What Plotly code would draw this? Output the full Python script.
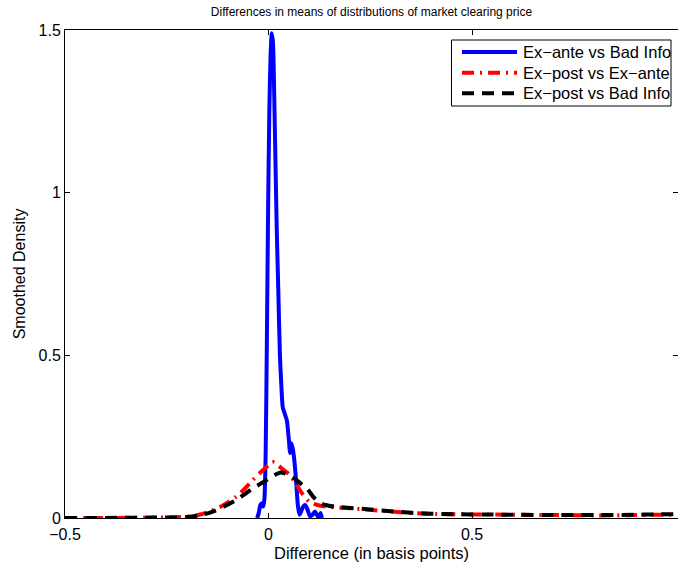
import plotly.graph_objects as go

# Difference in basis points (x) and smoothed density (y) for each comparison
exante_bad_x = [-0.028, -0.024, -0.020, -0.016, -0.013, -0.010, -0.007, -0.004, -0.001,
                0.002, 0.005, 0.008, 0.011, 0.014, 0.017, 0.020, 0.024, 0.028, 0.031,
                0.035, 0.040, 0.045, 0.050, 0.053, 0.056, 0.060, 0.064, 0.068, 0.072,
                0.076, 0.080, 0.085, 0.090, 0.096, 0.102, 0.108, 0.114, 0.119, 0.124,
                0.128, 0.131]
exante_bad_y = [0.0, 0.015, 0.040, 0.045, 0.035, 0.060, 0.20, 0.55, 0.95,
                1.25, 1.42, 1.49, 1.46, 1.30, 1.10, 0.90, 0.70, 0.50, 0.42,
                0.34, 0.32, 0.30, 0.24, 0.20, 0.23, 0.21, 0.17, 0.11, 0.04,
                0.01, 0.02, 0.035, 0.04, 0.025, 0.005, 0.01, 0.02, 0.01, 0.0,
                0.015, 0.0]

expost_exante_x = [-0.5, -0.3, -0.2, -0.17, -0.14, -0.11, -0.08, -0.06, -0.04, -0.02,
                   0.0, 0.01, 0.02, 0.035, 0.05, 0.065, 0.08, 0.10, 0.12, 0.15,
                   0.2, 0.25, 0.3, 0.35, 0.4, 0.5, 0.6, 0.7, 0.8, 0.9, 0.95, 1.0]
expost_exante_y = [0.0, 0.001, 0.004, 0.010, 0.022, 0.040, 0.065, 0.088, 0.115, 0.140,
                   0.162, 0.172, 0.165, 0.150, 0.135, 0.110, 0.080, 0.050, 0.040, 0.034,
                   0.030, 0.025, 0.020, 0.016, 0.013, 0.011, 0.010, 0.009, 0.008, 0.009,
                   0.010, 0.010]

expost_bad_x = [-0.5, -0.3, -0.2, -0.17, -0.14, -0.11, -0.08, -0.06, -0.04, -0.02,
                0.0, 0.02, 0.03, 0.045, 0.06, 0.08, 0.095, 0.11, 0.125, 0.14,
                0.17, 0.2, 0.25, 0.3, 0.35, 0.4, 0.5, 0.6, 0.7, 0.8, 0.9, 0.95, 1.0]
expost_bad_y = [0.0, 0.001, 0.003, 0.008, 0.018, 0.035, 0.055, 0.072, 0.090, 0.105,
                0.120, 0.135, 0.140, 0.135, 0.125, 0.105, 0.090, 0.065, 0.048, 0.040,
                0.034, 0.031, 0.026, 0.021, 0.016, 0.013, 0.011, 0.010, 0.009, 0.009,
                0.010, 0.011, 0.012]

series_names = ["Ex\u2212ante vs Bad Info", "Ex\u2212post vs Ex\u2212ante", "Ex\u2212post vs Bad Info"]
x_ticks = [-0.5, 0, 0.5]
x_tick_text = ["\u22120.5", "0", "0.5"]
y_ticks = [0, 0.5, 1, 1.5]

FONT = "Liberation Sans, Arial, Helvetica, sans-serif"
W, H = 678, 565
ML, MR, MT, MB = 65, 0, 30, 47
PW, PH = W - ML - MR, H - MT - MB


def px_to_paper(px, py):
    return (px - ML) / PW, (H - MB - py) / PH


styles = [
    dict(color="#0000FF", width=4),
    dict(color="#FF0000", width=4, dash="12px,6px,2px,6px"),
    dict(color="#000000", width=4, dash="12px,8px"),
]
series = [(exante_bad_x, exante_bad_y, 0.6),
          (expost_exante_x, expost_exante_y, 0.8),
          (expost_bad_x, expost_bad_y, 0.8)]

fig = go.Figure()
for (xs, ys, sm), name, st in zip(series, series_names, styles):
    fig.add_trace(go.Scatter(x=xs, y=ys, mode="lines", name=name,
                             line=dict(**st, shape="spline", smoothing=sm)))
# empty trace to carry the right-hand tick marks
fig.add_trace(go.Scatter(x=[None], y=[None], yaxis="y2", showlegend=False,
                         hoverinfo="skip"))

# legend box drawn in paper coordinates
shapes = []
annotations = []
x0, y0 = px_to_paper(451.5, 40)
x1, y1 = px_to_paper(671, 106)
shapes.append(dict(type="rect", xref="paper", yref="paper", x0=x0, y0=y1, x1=x1, y1=y0,
                   line=dict(color="black", width=1), fillcolor="white", layer="above"))
row_y = [52, 72.7, 93.3]
for name, st, ry in zip(series_names, styles, row_y):
    lx0, ly = px_to_paper(462, ry)
    lx1, _ = px_to_paper(517, ry)
    shapes.append(dict(type="line", xref="paper", yref="paper", x0=lx0, x1=lx1, y0=ly, y1=ly,
                       line=st, layer="above"))
    tx, _ = px_to_paper(521, ry)
    annotations.append(dict(text=name, xref="paper", yref="paper", x=tx, y=ly,
                            xanchor="left", yanchor="middle", showarrow=False,
                            font=dict(size=16.5, family=FONT, color="black")))

fig.update_layout(
    width=W, height=H,
    margin=dict(l=ML, r=MR, t=MT, b=MB),
    paper_bgcolor="white", plot_bgcolor="white",
    font=dict(family=FONT, size=16, color="black"),
    showlegend=False,
    title=dict(text="Differences in means of distributions of market clearing price",
               font=dict(size=12, family=FONT, color="black"),
               x=0.5, xref="paper", xanchor="center",
               y=1 - 12 / H, yref="container", yanchor="middle"),
    xaxis=dict(range=[-0.5, 1.006], tickvals=x_ticks, ticktext=x_tick_text,
               ticks="inside", ticklen=5, tickcolor="black", tickwidth=1,
               showline=True, linecolor="black", linewidth=1, mirror="ticks",
               showgrid=False, zeroline=False, ticklabelstandoff=2,
               tickfont=dict(size=16),
               title=dict(text="Difference (in basis points)", standoff=5,
                          font=dict(size=16.5))),
    yaxis=dict(range=[0, 1.5], tickvals=y_ticks,
               ticks="inside", ticklen=5, tickcolor="black", tickwidth=1,
               showline=True, linecolor="black", linewidth=1, mirror=False,
               showgrid=False, zeroline=False, tickfont=dict(size=16),
               title=dict(text="Smoothed Density", standoff=8, font=dict(size=16))),
    yaxis2=dict(range=[0, 1.5], tickvals=y_ticks, overlaying="y", side="right",
                ticks="inside", ticklen=5, tickcolor="black", tickwidth=1,
                showline=False, showticklabels=False, showgrid=False, zeroline=False),
    shapes=shapes,
    annotations=annotations,
)

fig.write_html("out.html")
